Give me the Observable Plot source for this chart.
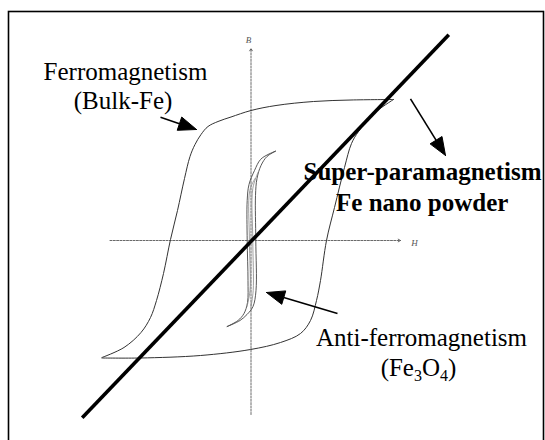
<!DOCTYPE html>
<html><head><meta charset="utf-8">
<script src="https://cdn.jsdelivr.net/npm/d3@7"></script>
<script src="https://cdn.jsdelivr.net/npm/@observablehq/plot@0.6"></script>
<style>body{margin:0;background:#fff}#chart svg{display:block}</style>
</head><body><div id="chart"></div>
<script>
// Axes extents (H horizontal, B vertical), arbitrary units
const hAxis = [-1.41, 1.495];
const bAxis = [-1.74, 1.92];
const axisLabels = [{t: "B", h: -0.025, b: 2.0}, {t: "H", h: 1.635, b: -0.03}];

// Ferromagnetism (bulk Fe) hysteresis loop
const ferroDown = [[1.425,1.41],[1.0,1.405],[0.625,1.39],[0.25,1.35],[0.0,1.30],[-0.2,1.235],[-0.33,1.19],[-0.43,1.14],[-0.5,1.06],[-0.56,0.96],[-0.61,0.84],[-0.665,0.62],[-0.735,0.30],[-0.805,0.01],[-0.875,-0.33],[-0.945,-0.60],[-1.005,-0.77],[-1.1,-0.92],[-1.27,-1.07],[-1.49,-1.17]];
const ferroUp = [[-1.49,-1.175],[-1.105,-1.175],[-0.505,-1.15],[-0.005,-1.09],[0.295,-1.02],[0.495,-0.93],[0.595,-0.80],[0.655,-0.60],[0.695,-0.40],[0.755,0.0],[0.835,0.33],[0.935,0.73],[1.005,0.97],[1.075,1.09],[1.215,1.26],[1.425,1.41]];

// Narrow loop near the origin
const smallDown = [[0.245,0.893],[0.17,0.86],[0.095,0.81],[0.035,0.70],[-0.02,0.56],[-0.038,0.40],[-0.038,0.0],[-0.03,-0.40],[-0.035,-0.62],[-0.07,-0.73],[-0.13,-0.80],[-0.238,-0.86]];
const smallUp = [[-0.238,-0.86],[-0.11,-0.80],[-0.04,-0.74],[0.02,-0.66],[0.05,-0.50],[0.048,0.0],[0.045,0.45],[0.06,0.62],[0.10,0.75],[0.16,0.84],[0.245,0.893]];
const smallInnerA = [[0.04,0.62],[-0.012,0.50],[-0.016,0.0],[-0.01,-0.50],[-0.04,-0.66]];
const smallInnerB = [[0.07,0.68],[0.018,0.52],[0.018,0.0],[0.022,-0.50],[0.0,-0.66]];

// Super-paramagnetism (straight line through origin)
const paraLine = [[-1.688,-1.773],[1.978,2.057]];

// Annotation arrows: tail -> tip
const arrows = [
  {id: "ferro", x1: -0.905, y1: 1.233, x2: -0.545, y2: 1.11},
  {id: "super", x1: 1.595, y1: 1.417, x2: 1.945, y2: 0.85},
  {id: "anti",  x1: 0.865, y1: -0.73, x2: 0.155, y2: -0.52}
];

// Labels
const labelsRegular = [
  {t: "Ferromagnetism", h: -1.255, b: 1.61},
  {t: "(Bulk-Fe)", h: -1.28, b: 1.32},
  {t: "Anti-ferromagnetism", h: 1.705, b: -1.05},
  {t: "(Fe3O4)", h: 1.675, b: -1.355}
];
const labelsBold = [
  {t: "Super-paramagnetism", h: 1.715, b: 0.605},
  {t: "Fe nano powder", h: 1.712, b: 0.30}
];

// arrowhead geometry in data units (isotropic scales)
const headLen = 0.18, headHalf = 0.07;
const shafts = [], heads = [];
for (const a of arrows) {
  const dx = a.x2 - a.x1, dy = a.y2 - a.y1, len = Math.hypot(dx, dy);
  const ux = dx / len, uy = dy / len, nx = -uy, ny = ux;
  const bx = a.x2 - headLen * ux, by = a.y2 - headLen * uy;
  shafts.push({x1: a.x1, y1: a.y1, x2: bx, y2: by});
  heads.push({id: a.id, x: a.x2, y: a.y2}, {id: a.id, x: bx + headHalf*nx, y: by + headHalf*ny}, {id: a.id, x: bx - headHalf*nx, y: by - headHalf*ny}, {id: a.id, x: a.x2, y: a.y2});
}

const X = d => d[0], Y = d => d[1];
const loopStyle = {x: X, y: Y, curve: "catmull-rom", stroke: "#333", strokeWidth: 1};
const smallStyle = {x: X, y: Y, curve: "catmull-rom", stroke: "#444", strokeWidth: 0.9};
const serif = "'Liberation Serif', 'Times New Roman', serif";

const chart = Plot.plot({
  width: 545, height: 440, margin: 0,
  x: {domain: [-2.505, 2.945], axis: null},
  y: {domain: [-2.0, 2.4], axis: null},
  style: {background: "white", fontFamily: serif},
  marks: [
    Plot.frame({stroke: "black", strokeWidth: 1.6, insetLeft: 8, insetTop: 11, insetRight: 2, insetBottom: -3}),
    Plot.arrow([{x1: hAxis[0], x2: hAxis[1], y1: 0, y2: 0}], {x1: "x1", y1: "y1", x2: "x2", y2: "y2", stroke: "#444", strokeWidth: 0.8, strokeDasharray: "2,1.3", headLength: 5}),
    Plot.arrow([{x1: 0, x2: 0, y1: bAxis[0], y2: bAxis[1]}], {x1: "x1", y1: "y1", x2: "x2", y2: "y2", stroke: "#444", strokeWidth: 0.8, strokeDasharray: "2,1.3", headLength: 5}),
    Plot.text(axisLabels, {x: "h", y: "b", text: "t", fontSize: 9, fontStyle: "italic", fill: "#555", fontFamily: serif}),
    Plot.line(ferroDown, loopStyle),
    Plot.line(ferroUp, loopStyle),
    Plot.line(smallDown, smallStyle),
    Plot.line(smallUp, smallStyle),
    Plot.line(smallInnerA, {...smallStyle, stroke: "#888", strokeWidth: 0.8}),
    Plot.line(smallInnerB, {...smallStyle, stroke: "#888", strokeWidth: 0.8}),
    Plot.line(paraLine, {x: X, y: Y, stroke: "black", strokeWidth: 3.6, strokeLinecap: "butt"}),
    Plot.link(shafts, {x1: "x1", y1: "y1", x2: "x2", y2: "y2", stroke: "black", strokeWidth: 1.6}),
    Plot.line(heads, {x: "x", y: "y", z: "id", fill: "black", stroke: "black", strokeWidth: 1, strokeLinejoin: "miter"}),
    Plot.text(labelsRegular, {x: "h", y: "b", text: "t", fontSize: 25, lineAnchor: "bottom", fill: "black", fontFamily: serif}),
    Plot.text(labelsBold, {x: "h", y: "b", text: "t", fontSize: 25, fontWeight: "bold", lineAnchor: "bottom", fill: "black", fontFamily: serif})
  ]
});
document.getElementById("chart").appendChild(chart);

// subscripts for Fe3O4
for (const el of chart.querySelectorAll("text")) {
  if (el.textContent === "(Fe3O4)") {
    const parts = [["(Fe", 0], ["3", 1], ["O", 0], ["4", 1], [")", 0]];
    el.textContent = "";
    let prev = 0;
    for (const [s, sub] of parts) {
      const ts = document.createElementNS("http://www.w3.org/2000/svg", "tspan");
      ts.textContent = s;
      const shift = sub ? 5 : 0;
      if (shift !== prev) ts.setAttribute("dy", shift - prev);
      if (sub) ts.setAttribute("font-size", "16");
      prev = shift;
      el.appendChild(ts);
    }
  }
}
</script>
</body></html>
